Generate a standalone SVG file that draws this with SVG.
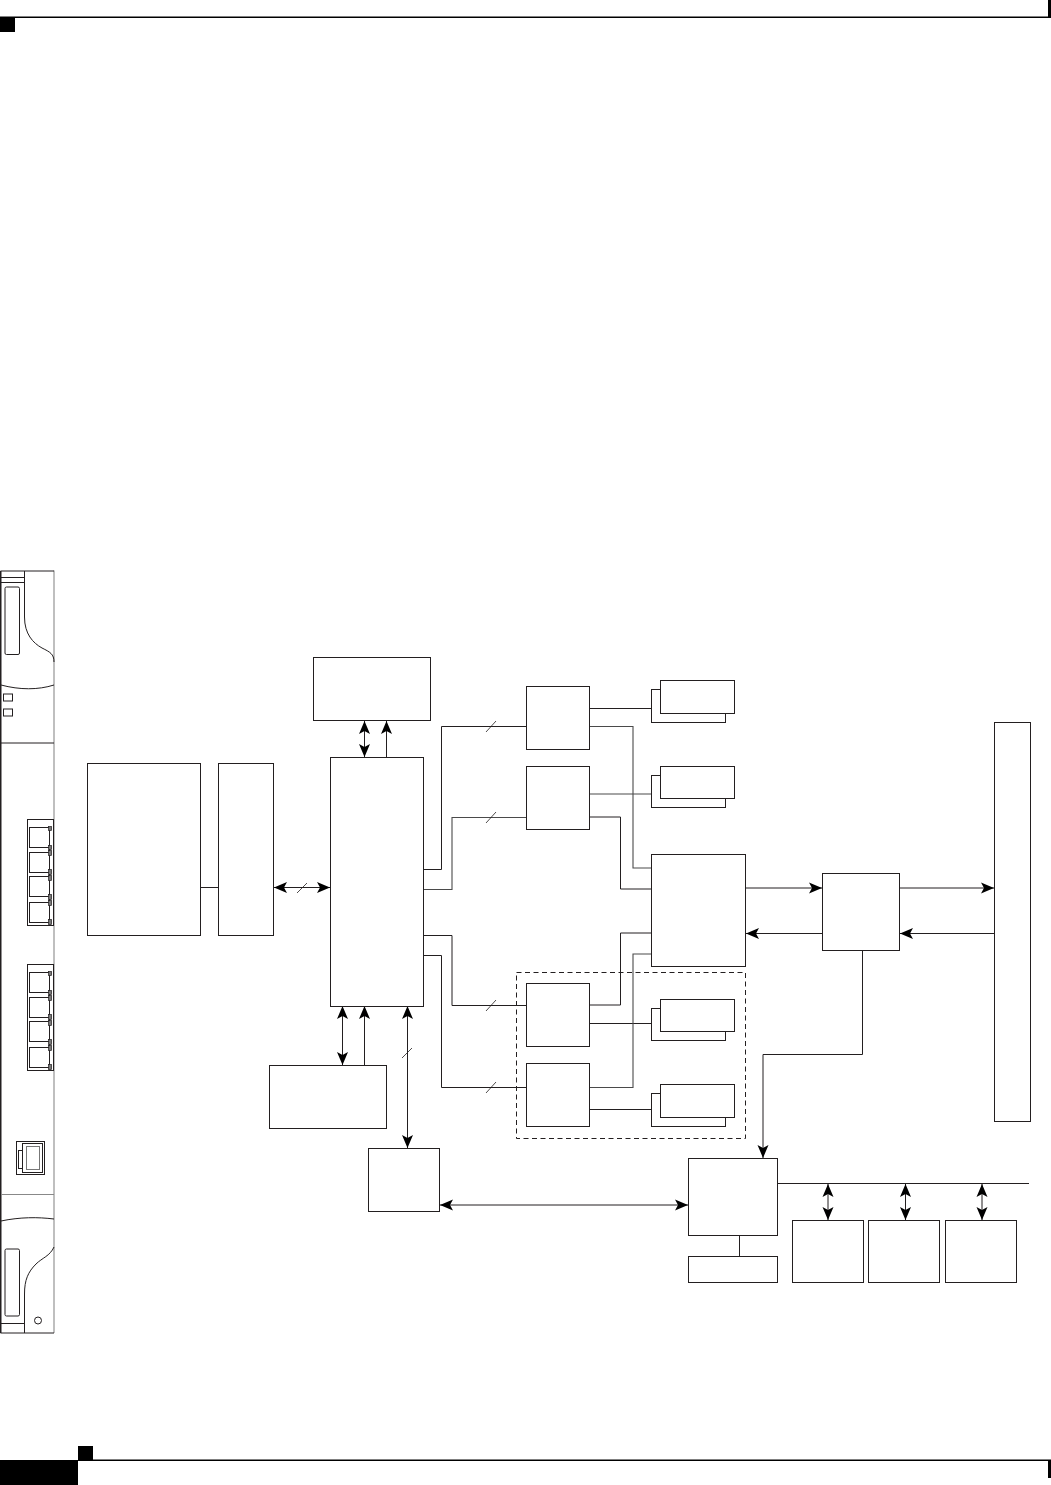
<svg xmlns="http://www.w3.org/2000/svg" width="1051" height="1485" viewBox="0 0 1051 1485">
<style>
.b{fill:#fff;stroke:#231f20;stroke-width:1}
.l{fill:none;stroke:#231f20;stroke-width:1}
.g{fill:none;stroke:#4a4a4a;stroke-width:1.1}
.t{fill:none;stroke:#231f20;stroke-width:.8}
.k{fill:#000;stroke:none}
.a{fill:none;stroke:#231f20;stroke-width:1;marker-end:url(#ah)}
.d{fill:none;stroke:#231f20;stroke-width:1;marker-start:url(#as);marker-end:url(#ah)}
.p{fill:none;stroke:#231f20;stroke-width:1}
.pg{fill:none;stroke:#aaa;stroke-width:1.5}
.j{fill:#777;stroke:#231f20;stroke-width:.7}
</style>
<defs>
<marker id="ah" markerUnits="userSpaceOnUse" markerWidth="14" markerHeight="12" refX="13" refY="6" orient="auto"><path d="M0,0.5 L13,6 L0,11.5 L3,6 Z" fill="#000"/></marker>
<marker id="as" markerUnits="userSpaceOnUse" markerWidth="14" markerHeight="12" refX="0" refY="6" orient="auto"><path d="M13,0.5 L0,6 L13,11.5 L10,6 Z" fill="#000"/></marker>
</defs>
<g id="page-frame">
<rect class="k" x="0" y="16.500" width="1051" height="1.500"/>
<rect class="k" x="0" y="17" width="15" height="15"/>
<rect class="k" x="0" y="1460" width="78" height="25"/>
<rect class="k" x="78" y="1446" width="15" height="15"/>
<rect class="k" x="78" y="1459.500" width="973" height="1.500"/>
<rect class="k" x="1048" y="0" width="3" height="18"/>
<rect class="k" x="1048" y="1460" width="3" height="18"/>
</g>
<g id="faceplate">
<path class="pg" d="M54,570.500V1333"/>
<path fill="none" stroke="#231f20" stroke-width="1.500" d="M0.750,571V1333"/>
<path class="p" d="M0.500,571H54M0.500,1333H54"/>
<path class="p" d="M0,577.500H24.500M0,582.500H24.500M24.500,571V617C24.500,634 33,643 42,648C50,652 54,654 54,662"/>
<rect class="p" x="5" y="587" width="14.500" height="67.500" rx="1.500"/>
<path class="p" d="M1,685C20,690 38,690 54,685"/>
<rect class="p" x="3.500" y="694" width="9" height="7"/>
<rect class="p" x="3.500" y="709" width="9" height="7"/>
<path class="p" d="M1,743H54"/>
<g id="ports-a">
<rect class="b" x="27.500" y="819.500" width="26" height="106"/>
<rect class="p" x="29.500" y="827.500" width="20" height="20"/><rect class="p" x="29.500" y="852.500" width="20" height="20"/><rect class="p" x="29.500" y="876.500" width="20" height="20"/><rect class="p" x="29.500" y="902.500" width="20" height="20"/>
<path class="p" d="M49.500,828V922"/>
<rect class="j" x="48.500" y="826.500" width="3" height="4"/><rect class="j" x="48.500" y="845.500" width="3" height="4"/><rect class="j" x="48.500" y="850.500" width="3" height="5"/><rect class="j" x="48.500" y="869.500" width="3" height="5"/><rect class="j" x="48.500" y="875.500" width="3" height="5"/><rect class="j" x="48.500" y="894.500" width="3" height="5"/><rect class="j" x="48.500" y="900.500" width="3" height="5"/><rect class="j" x="48.500" y="919.500" width="3" height="5"/>
</g>
<g id="ports-b">
<rect class="b" x="27.500" y="964.500" width="26" height="106"/>
<rect class="p" x="29.500" y="972.500" width="20" height="20"/><rect class="p" x="29.500" y="997.500" width="20" height="20"/><rect class="p" x="29.500" y="1021.500" width="20" height="20"/><rect class="p" x="29.500" y="1047.500" width="20" height="20"/>
<path class="p" d="M49.500,973V1067"/>
<rect class="j" x="48.500" y="971.500" width="3" height="4"/><rect class="j" x="48.500" y="990.500" width="3" height="4"/><rect class="j" x="48.500" y="995.500" width="3" height="5"/><rect class="j" x="48.500" y="1014.500" width="3" height="5"/><rect class="j" x="48.500" y="1020.500" width="3" height="5"/><rect class="j" x="48.500" y="1039.500" width="3" height="5"/><rect class="j" x="48.500" y="1045.500" width="3" height="5"/><rect class="j" x="48.500" y="1064.500" width="3" height="5"/>
</g>
<rect class="p" x="16.500" y="1141.500" width="28" height="33"/>
<rect class="p" x="22.500" y="1143.500" width="20" height="29"/>
<rect fill="none" stroke="#777" x="26.500" y="1146.500" width="13" height="23"/>
<rect class="p" x="18.500" y="1150.500" width="4" height="18"/>
<path stroke="#888" fill="none" d="M1,1194.500H54"/>
<path class="p" d="M1,1221C20,1217 38,1217 54,1219"/>
<path class="p" d="M54,1247C50,1256 42,1258 36,1264C28,1272 24.500,1280 24.500,1294V1333M0,1323.500H24.500"/>
<rect class="p" x="5" y="1249" width="14.500" height="67" rx="1.500"/>
<circle class="p" cx="38" cy="1320.500" r="3.500"/>
</g>
<g id="connectors">
<path class="l" d="M200,887.500H218"/>
<path class="d" d="M274,887.500H330"/>
<path class="t" d="M297,893L307,883"/>
<path class="d" d="M364.500,721V757"/>
<path class="a" d="M386.500,757V721"/>
<path class="d" d="M342.500,1006V1065"/>
<path class="a" d="M364.500,1065V1006"/>
<path class="d" d="M407.500,1006V1148"/>
<path class="t" d="M402,1058L412,1048"/>
<path class="d" d="M440,1205H688"/>
<path class="l" d="M424,869.500H441.500V726.500H526"/>
<path class="t" d="M486,732L496,721"/>
<path class="g" d="M424,889.500H452V817.500H526"/>
<path class="t" d="M486,823L496,812"/>
<path class="l" d="M424,935.500H452V1005.500H526"/>
<path class="t" d="M486,1011L496,1000"/>
<path class="l" d="M424,955.500H441.500V1087.500H526"/>
<path class="t" d="M486,1093L496,1082"/>
<path class="l" d="M590,708.500H651"/>
<path class="g" d="M590,726.500H633V868H651"/>
<path class="g" d="M590,794H651"/>
<path class="l" d="M590,817H620.500V889H651"/>
<path class="l" d="M590,1005H620.500V933H651"/>
<path class="l" d="M590,1023.500H651"/>
<path class="g" d="M590,1087.500H633V954H651"/>
<path class="l" d="M590,1109.500H651"/>
<path class="a" d="M746,888H822"/>
<path class="a" d="M822,933.500H746"/>
<path class="a" d="M900,888H994"/>
<path class="a" d="M994,933.500H900"/>
<path class="a" d="M862.500,950V1054.500H763V1158"/>
<path class="l" d="M778,1183.500H1029"/>
<path class="d" d="M828,1184V1220"/>
<path class="d" d="M905.500,1184V1220"/>
<path class="d" d="M982,1184V1220"/>
<path class="l" d="M739.500,1235V1256"/>
</g>
<g id="n1"><rect class="b" x="87.500" y="763.500" width="113" height="172"/></g>
<g id="n2"><rect class="b" x="218.500" y="763.500" width="55" height="172"/></g>
<g id="n3"><rect class="b" x="313.500" y="657.500" width="117" height="63"/></g>
<g id="n4"><rect class="b" x="330.500" y="757.500" width="93" height="249"/></g>
<g id="n5"><rect class="b" x="269.500" y="1065.500" width="117" height="63"/></g>
<g id="n6"><rect class="b" x="368.500" y="1148.500" width="71" height="63"/></g>
<g id="n7"><rect class="b" x="526.500" y="686.500" width="63" height="63"/></g>
<g id="n8"><rect class="b" x="526.500" y="766.500" width="63" height="63"/></g>
<g id="n9"><rect class="b" x="526.500" y="983.500" width="63" height="63"/></g>
<g id="n10"><rect class="b" x="526.500" y="1063.500" width="63" height="63"/></g>
<g id="n11"><rect class="b" x="651.500" y="689.500" width="74" height="33"/><rect class="b" x="660.500" y="680.500" width="74" height="33"/></g>
<g id="n12"><rect class="b" x="651.500" y="775.500" width="74" height="32"/><rect class="b" x="660.500" y="766.500" width="74" height="32"/></g>
<g id="n13"><rect class="b" x="651.500" y="1008.500" width="74" height="32"/><rect class="b" x="660.500" y="999.500" width="74" height="32"/></g>
<g id="n14"><rect class="b" x="651.500" y="1093.500" width="74" height="33"/><rect class="b" x="660.500" y="1084.500" width="74" height="33"/></g>
<g id="n15"><rect class="b" x="651.500" y="854.500" width="94" height="112"/></g>
<g id="n16"><rect class="b" x="822.500" y="873.500" width="77" height="77"/></g>
<g id="n17"><rect class="b" x="994.500" y="722.500" width="36" height="399"/></g>
<g id="n18"><rect class="b" x="688.500" y="1158.500" width="89" height="77"/></g>
<g id="n19"><rect class="b" x="688.500" y="1256.500" width="89" height="26"/></g>
<g id="n20"><rect class="b" x="792.500" y="1220.500" width="71" height="62"/></g>
<g id="n21"><rect class="b" x="868.500" y="1220.500" width="71" height="62"/></g>
<g id="n22"><rect class="b" x="945.500" y="1220.500" width="71" height="62"/></g>
<g id="group-box"><rect x="516.500" y="972.500" width="229" height="166" fill="none" stroke="#231f20" stroke-dasharray="5 3.500"/></g>
</svg>
